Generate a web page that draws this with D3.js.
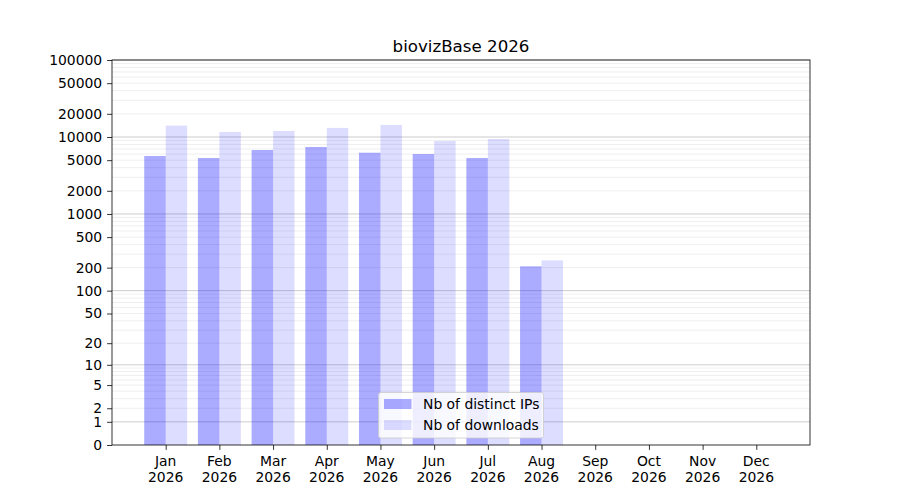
<!DOCTYPE html>
<html><head><meta charset="utf-8">
<script src="https://cdn.jsdelivr.net/npm/d3@7"></script>
<style>body{margin:0;background:#fff}svg{font-family:"DejaVu Sans",sans-serif}</style>
</head><body>
<svg id="c" width="900" height="500"></svg>
<script>
const months = ["Jan","Feb","Mar","Apr","May","Jun","Jul","Aug","Sep","Oct","Nov","Dec"];
const year = "2026";
const distinctIPs = [5660,5330,6780,7420,6250,6010,5330,208,0,0,0,0];
const downloads = [14060,11640,11990,13120,14350,8880,9420,249,0,0,0,0];
const yTicks = [0,1,2,5,10,20,50,100,200,500,1000,2000,5000,10000,20000,50000,100000];
const majorGrid = [1,10,100,1000,10000,100000];
const seriesNames = ["Nb of distinct IPs","Nb of downloads"];
const title = "biovizBase 2026";

const L=112,R=810,T=60,B=445;
const svg=d3.select("#c");
const x=d3.scaleLinear().domain([-1,12]).range([L,R]);
const y=d3.scaleSymlog().constant(1).domain([0,100000]).range([B,T]);

// minor grid
const minor=[];
for(let e=0;e<5;e++)for(let k=2;k<=9;k++)minor.push(k*Math.pow(10,e));
const g=svg.append("g");
g.selectAll("line.mi").data(minor).join("line")
 .attr("x1",L).attr("x2",R).attr("y1",d=>y(d)).attr("y2",d=>y(d))
 .attr("stroke","#ebebeb").attr("stroke-width",0.8);
g.selectAll("line.ma").data(majorGrid).join("line")
 .attr("x1",L).attr("x2",R).attr("y1",d=>y(d)).attr("y2",d=>y(d))
 .attr("stroke","#b0b0b0").attr("stroke-width",0.8).attr("stroke-opacity",0.8);

const bw=0.4;
const bars=svg.append("g");
bars.selectAll("rect.a").data(distinctIPs).join("rect")
 .attr("x",(d,i)=>x(i-bw)).attr("width",(d,i)=>x(i)-x(i-bw))
 .attr("y",d=>y(d)).attr("height",d=>B-y(d))
 .attr("fill","blue").attr("fill-opacity",0.33);
bars.selectAll("rect.b").data(downloads).join("rect")
 .attr("x",(d,i)=>x(i)).attr("width",(d,i)=>x(i+bw)-x(i))
 .attr("y",d=>y(d)).attr("height",d=>B-y(d))
 .attr("fill","blue").attr("fill-opacity",0.135);

// axes
const fs="13.9px";
const ya=svg.append("g").attr("transform",`translate(${L},0)`)
 .call(d3.axisLeft(y).tickValues(yTicks).tickFormat(d3.format("d")).tickSize(4.9).tickPadding(4.9));
ya.select(".domain").remove();
ya.selectAll("text").attr("font-size",fs).attr("font-family","DejaVu Sans").attr("fill","#000");
ya.selectAll("line").attr("stroke","#000").attr("stroke-width",0.8);

const xa=svg.append("g").attr("transform",`translate(0,${B})`)
 .call(d3.axisBottom(x).tickValues(d3.range(12)).tickFormat("").tickSize(4.9));
xa.select(".domain").remove();
xa.selectAll("line").attr("stroke","#000").attr("stroke-width",0.8);
const xl=svg.append("g");
months.forEach((m,i)=>{
  const t=xl.append("text").attr("x",x(i)).attr("y",B+21).attr("text-anchor","middle")
   .attr("font-size",fs).attr("fill","#000");
  t.append("tspan").attr("x",x(i)).text(m);
  t.append("tspan").attr("x",x(i)).attr("dy",16).text(year);
});

svg.append("rect").attr("x",L).attr("y",T).attr("width",R-L).attr("height",B-T)
 .attr("fill","none").attr("stroke","#000").attr("stroke-width",0.8);

svg.append("text").attr("x",(L+R)/2).attr("y",T-8).attr("text-anchor","middle")
 .attr("font-size","16.67px").attr("fill","#000").text(title);

// legend
const lg=svg.append("g").attr("transform","translate(378.5,392.5)");
lg.append("rect").attr("width",165).attr("height",45.5).attr("rx",2.5)
 .attr("fill","#fff").attr("fill-opacity",0.8).attr("stroke","#cccccc").attr("stroke-width",0.8);
const ops=[0.33,0.135];
seriesNames.forEach((n,i)=>{
  lg.append("rect").attr("x",5.5).attr("y",6.5+i*21).attr("width",27.5).attr("height",10)
   .attr("fill","blue").attr("fill-opacity",ops[i]);
  lg.append("text").attr("x",44.5).attr("y",16.5+i*21).attr("font-size",fs).attr("fill","#000").text(n);
});
</script>
</body></html>
